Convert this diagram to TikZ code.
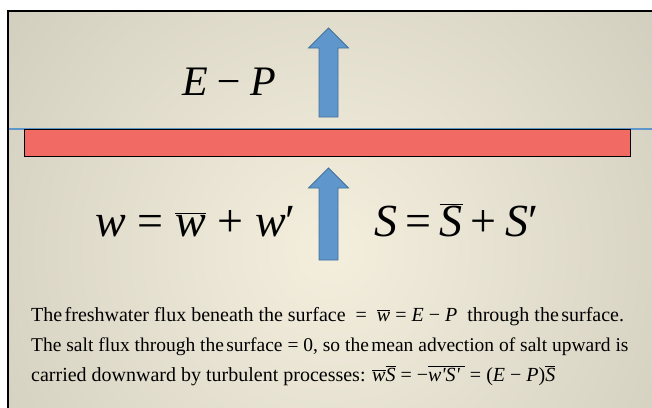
\documentclass[tikz,border=0pt]{standalone}
\usepackage{fontspec}
\setmainfont{Liberation Serif}
\usepackage{tikz}

\definecolor{slidecenter}{HTML}{F4EFDD}
\definecolor{slideedge}{HTML}{B2AFA2}
\definecolor{fluxblue}{HTML}{5F96CC}
\definecolor{fluxborder}{HTML}{41719C}
\definecolor{surfred}{HTML}{F26A64}

\tikzset{
  fluxarrow/.style={fill=fluxblue, draw=fluxborder, line width=0.8pt},
  surfbar/.style={fill=surfred, draw=black, line width=0.8pt},
  surfline/.style={draw=fluxblue, line width=1.2pt},
  bigeq/.style={inner sep=0pt, font=\fontsize{46}{46}\selectfont},
  bodyline/.style={inner sep=0pt, anchor=base west, font=\fontsize{20}{24}\selectfont}
}

\newcommand{\vw}{\textit{w}}
\newcommand{\vS}{\textit{S}}
\newcommand{\barw}{$\overline{\hbox{\itshape w}}$}
\newcommand{\barS}{$\overline{\hbox{\itshape S}}$}
\newcommand{\tsp}{\hspace{0.12em}}

\begin{document}
\begin{tikzpicture}[x=1pt, y=-1pt]
  \useasboundingbox (0,0) rectangle (652,407);
  % slide background
  \begin{scope}
    \clip (8,11) rectangle (652,407);
    \shade[inner color=slidecenter, outer color=slideedge] (330,250) circle (800);
  \end{scope}
  \draw[line width=2.5pt] (8,420) -- (8,11) -- (660,11);

  % surface
  \coordinate (sl) at (9,129);
  \coordinate (sr) at (652,129);
  \draw[surfline] (sl) -- (sr);
  \draw[surfbar] (24,129) rectangle (630,156);

  % flux arrows
  \foreach \tip/\bot/\name in {28/117/up, 168/260/low} {
    \coordinate (\name tip) at (328.5,\tip);
    \draw[fluxarrow] (319,\bot) -- (319,\tip+20) -- (308.5,\tip+20) -- (\name tip)
      -- (348.5,\tip+20) -- (338,\tip+20) -- (338,\bot) -- cycle;
  }

  % labels
  \node[bigeq, anchor=base, font=\fontsize{42}{42}\selectfont] (ep) at (229,95) {\itshape E\,−\,P};
  \node[bigeq, anchor=base east] (weq) at (296,236) {\vw\ = \barw\ + \vw′};
  \node[bigeq, anchor=base west] (seq) at (374,236) {\vS\hspace{0.18em}=\hspace{0.18em}\barS\hspace{0.18em}+\hspace{0.18em}\vS′};

  \node[bodyline] (line1) at (31,321) {The\tsp freshwater flux beneath the surface \ = \ \barw\ = \textit{E} − \textit{P} \ through the\tsp surface.};
  \node[bodyline, font=\fontsize{19.5}{24}\selectfont] (line2) at (31,351) {The salt flux through the\tsp surface = 0, so the\tsp mean advection of salt upward is};
  \node[bodyline] (line3) at (31,381) {carried downward by turbulent processes: \barw\barS\ = −$\overline{\hbox{\itshape w\textquotesingle S\textquotesingle\ }}$ = (\textit{E} − \textit{P})\barS};
\end{tikzpicture}
\end{document}
